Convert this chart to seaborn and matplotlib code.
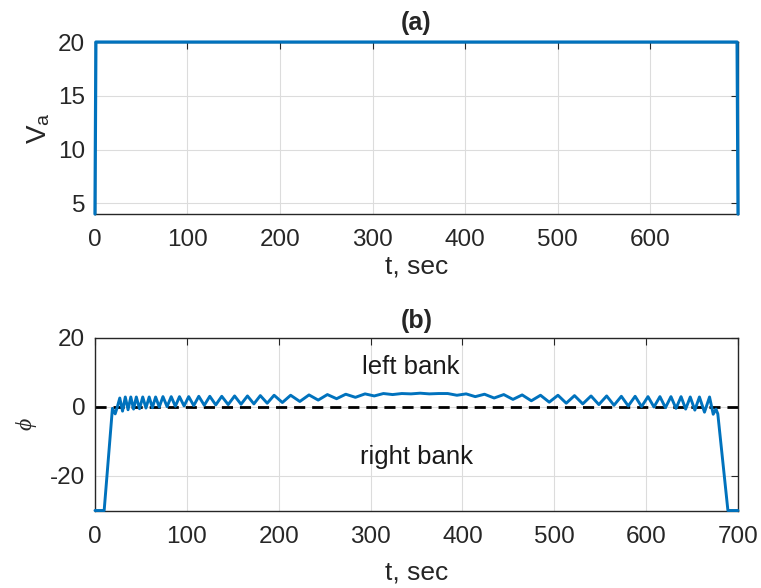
import numpy as np
import pandas as pd
import seaborn as sns
import matplotlib.pyplot as plt

# (a) airspeed
t_va = [0, 1, 694, 695]
va = [4, 20, 20, 4]

# (b) bank angle
t_phi = [0, 10, 19, 22, 24,
         27, 30, 33, 36, 39, 42, 45, 48.5, 52, 55.5, 59, 62.5, 66, 70, 74, 78.5,
         83, 87.5, 92, 97, 102, 107.5, 113, 119, 125, 131.5, 138, 145, 152, 159,
         166, 173, 180, 187.5, 195, 204, 213, 223, 233, 243, 253, 263, 273, 283.5,
         294, 304, 314, 324, 334, 344, 354, 364, 374,
         384, 394, 404, 414, 424, 434.5, 445, 455, 465, 475, 485, 494.5, 504, 513,
         522, 531, 540, 548.5, 557, 565, 573, 580.5, 588, 595, 602, 608.5, 615, 621,
         627, 632.5, 638, 643, 648, 653, 658, 663.5, 669,
         673, 676, 678, 689, 700]
phi = [-30, -30, -0.4, -2.0, -0.3,
       2.6, -1.2, 2.9, -0.8, 2.9, -0.6, 2.9, -0.5, 2.9, -0.3, 2.9, -0.2, 2.9, 0.0, 3.0, 0.1,
       3.0, 0.2, 3.0, 0.3, 3.0, 0.4, 3.1, 0.5, 3.1, 0.6, 3.1, 0.7, 3.2, 0.8,
       3.2, 0.9, 3.3, 1.1, 3.4, 1.3, 3.4, 1.6, 3.5, 2.0, 3.6, 2.4, 3.7, 2.8,
       3.8, 3.2, 3.9, 3.6, 3.9, 3.8, 4.0, 3.8, 3.9,
       3.9, 3.4, 3.8, 3.0, 3.7, 2.6, 3.6, 2.2, 3.5, 1.8, 3.4, 1.4, 3.4, 1.1,
       3.3, 0.9, 3.2, 0.7, 3.2, 0.5, 3.1, 0.3, 3.1, 0.1, 3.0, 0.0, 3.0, -0.2,
       3.0, -0.4, 3.0, -0.6, 2.9, -0.9, 2.9, -1.5, 2.9,
       -2.1, -0.6, -2.0, -30, -30]

df_va = pd.DataFrame({"t": t_va, "Va": va})
df_phi = pd.DataFrame({"t": t_phi, "phi": phi})

sns.set_style("white")
plt.rcParams["font.family"] = ["Liberation Sans", "DejaVu Sans"]
plt.rcParams["mathtext.fontset"] = "custom"
plt.rcParams["mathtext.rm"] = "Liberation Sans"
plt.rcParams["mathtext.it"] = "Liberation Serif:italic"
plt.rcParams["axes.unicode_minus"] = False

blue = "#0072BD"
edge = "#262626"

fig = plt.figure(figsize=(7.61, 5.88), dpi=100)
ax1 = fig.add_axes([0.1248, 0.636, 0.845, 0.2925])
ax2 = fig.add_axes([0.1248, 0.1318, 0.845, 0.2934])

sns.lineplot(data=df_va, x="t", y="Va", ax=ax1, color=blue, linewidth=2.3,
             estimator=None, sort=False, clip_on=False, zorder=5)
sns.lineplot(data=df_phi, x="t", y="phi", ax=ax2, color=blue, linewidth=2.1,
             estimator=None, sort=False, clip_on=False, zorder=5)
ax2.axhline(0, color="black", linestyle=(0, (4, 2.5)), linewidth=2)

ax1.set_xlim(0, 695)
ax1.set_ylim(4, 20)
ax1.set_xticks([0, 100, 200, 300, 400, 500, 600])
ax1.set_yticks([5, 10, 15, 20])
ax1.set_title("(a)", fontsize=18, fontweight="bold", pad=9)
ax1.set_xlabel("t, sec", fontsize=19, labelpad=2)
ax1.set_ylabel(r"V$_\mathregular{a}$", fontsize=20, labelpad=4)

ax2.set_xlim(0, 700)
ax2.set_ylim(-30, 20)
ax2.set_xticks([0, 100, 200, 300, 400, 500, 600, 700])
ax2.set_yticks([-20, 0, 20])
ax2.set_title("(b)", fontsize=18, fontweight="bold", pad=7)
ax2.set_xlabel("t, sec", fontsize=19, labelpad=9)
ax2.set_ylabel(r"$\phi$", fontsize=17, labelpad=8)
ax2.text(344, 11.6, "left bank", fontsize=18.5, ha="center", va="center", color="#1a1a1a")
ax2.text(350, -14.5, "right bank", fontsize=18.5, ha="center", va="center", color="#1a1a1a")

for ax in (ax1, ax2):
    ax.grid(True, color="#dcdcdc", linewidth=0.8)
    ax.set_axisbelow(True)
    ax.tick_params(direction="in", top=True, right=True, length=5,
                   labelsize=17.5, colors=edge)
    ax.tick_params(axis="x", pad=11)
    ax.tick_params(axis="y", pad=7)
    for s in ax.spines.values():
        s.set_color(edge)
        s.set_linewidth(1.0)

fig.savefig("out.png", dpi=100)
